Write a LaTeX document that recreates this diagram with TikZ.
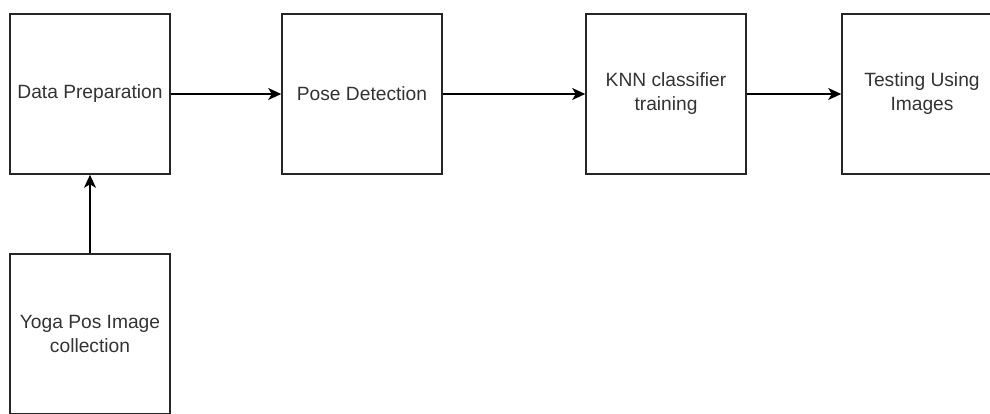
\documentclass[tikz,border=0pt]{standalone}
\usepackage{fontspec}
\setmainfont{Liberation Sans}
\usetikzlibrary{arrows.meta}
\begin{document}
\begin{tikzpicture}[x=1pt,y=-1pt,
  stage/.style={draw=black!85, line width=1.6pt, minimum width=160pt,
    minimum height=160pt, inner sep=0pt, align=center,
    font=\fontsize{19.2}{24}\selectfont, text=black!80},
  flow/.style={draw=black, line width=1.3pt,
    -{Stealth[length=13pt,width=12pt,inset=3.5pt]}}]
\useasboundingbox (0,0) rectangle (990,413);
\clip (0,0) rectangle (990,413);
\fill[white] (0,0) rectangle (990,413);
% pipeline stages
\node[stage] (prep) at (90,94) {\raisebox{-2pt}{Data Preparation}};
\node[stage] (pose) at (362,94) {\raisebox{-2pt}{Pose Detection}};
\node[stage] (knn)  at (666,94) {\raisebox{-2pt}{KNN classifier}\\\raisebox{-2pt}{training}};
\node[stage] (test) at (922,94) {\raisebox{-2pt}{Testing Using}\\\raisebox{-2pt}{Images}};
\node[stage] (yoga) at (90,334) {Yoga Pos Image\\collection};
% connectors
\draw[flow] (prep) -- (pose);
\draw[flow] (pose) -- (knn);
\draw[flow] (knn) -- (test);
\draw[flow] (yoga) -- (prep);
\end{tikzpicture}
\end{document}
